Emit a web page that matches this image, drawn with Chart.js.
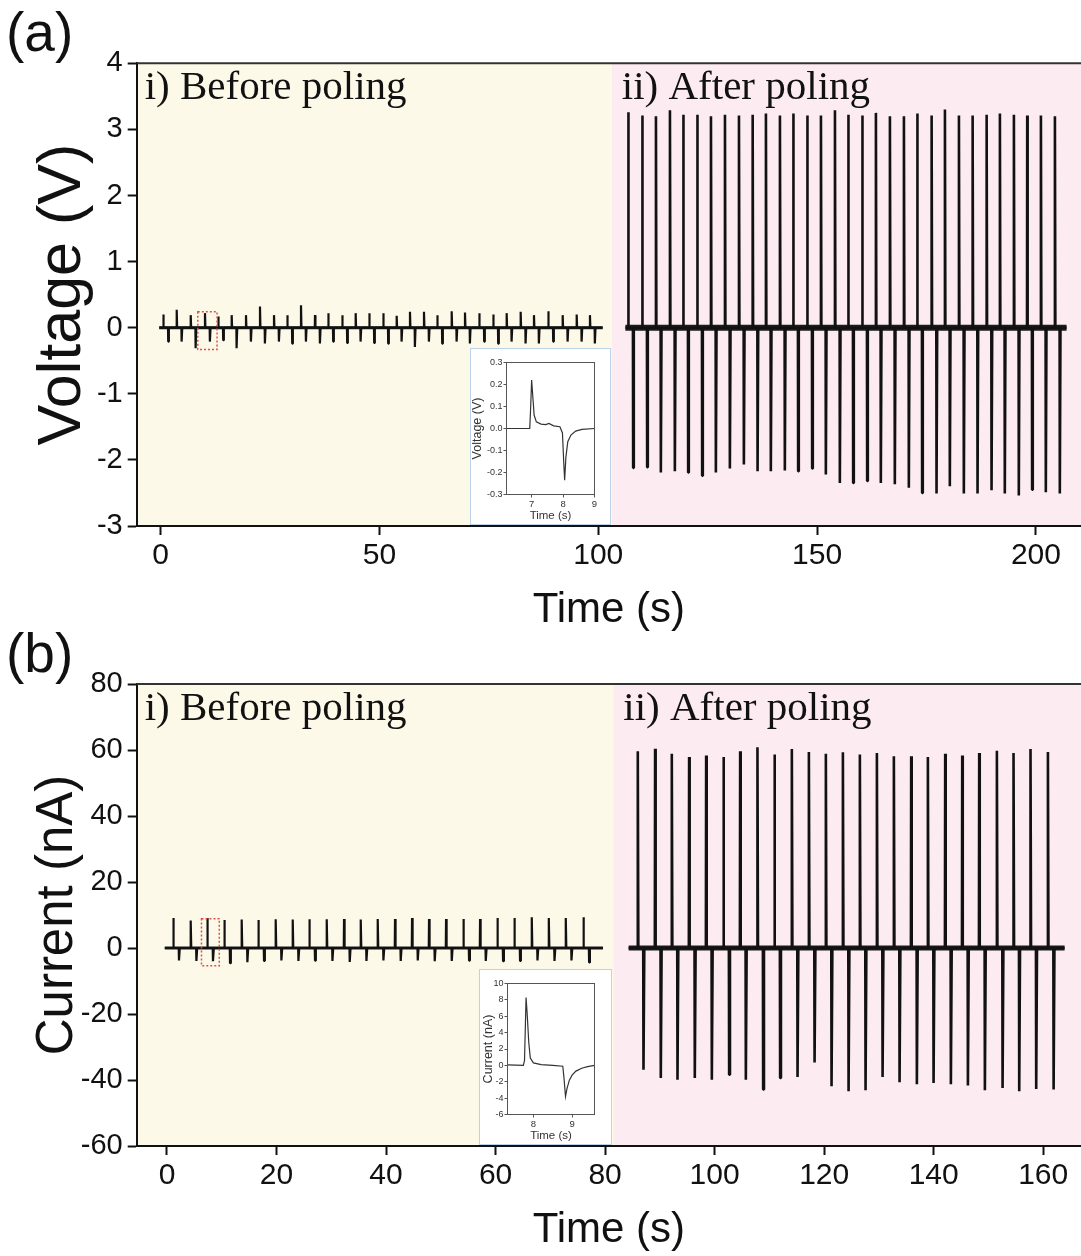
<!DOCTYPE html>
<html>
<head>
<meta charset="utf-8">
<script src="https://cdn.jsdelivr.net/npm/chart.js@4.4.1/dist/chart.umd.min.js"></script>
<style>
  html, body { margin: 0; padding: 0; background: #fff; overflow: hidden; }
  #page { position: relative; width: 1081px; height: 1256px; }
  .main { position: absolute; left: 0; }
  .inset { position: absolute; background: #fff; border: 1.5px solid #bcd2ea; box-sizing: border-box; }
  .inset canvas { position: absolute; left: 0; top: 0; }
</style>
</head>
<body>
<div id="page">
  <div class="main" style="top:0"><canvas id="chartA" width="1081" height="640"></canvas></div>
  <div class="main" style="top:620px"><canvas id="chartB" width="1081" height="636"></canvas></div>
  <div class="inset" style="left:470px;top:348px;width:141px;height:177px"><canvas id="insetA" width="138" height="174"></canvas></div>
  <div class="inset" style="left:479px;top:969px;width:133px;height:176px"><canvas id="insetB" width="130" height="173"></canvas></div>
</div>
<script>
// (a) voltage: spike onset times (s), press peaks and release troughs (V)
const voltBeforeT = [0.62, 3.68, 6.88, 10.14, 13.18, 16.24, 19.51, 22.71, 25.91, 28.95, 32.08, 35.28, 38.31, 41.51, 44.57, 47.68,
  50.88, 53.94, 56.98, 60.18, 63.22, 66.51, 69.55, 72.81, 76.01, 79.07, 82.27, 85.31, 88.58, 91.87, 95.07, 98.10];
const voltBeforeUp = [0.20, 0.27, 0.19, 0.22, 0.17, 0.19, 0.19, 0.32, 0.19, 0.19, 0.34, 0.19, 0.22, 0.19, 0.22, 0.22,
  0.22, 0.18, 0.24, 0.24, 0.19, 0.25, 0.23, 0.22, 0.20, 0.22, 0.24, 0.19, 0.25, 0.19, 0.20, 0.19];
const voltBeforeDown = [-0.21, -0.21, -0.31, -0.21, -0.19, -0.31, -0.21, -0.24, -0.21, -0.24, -0.21, -0.24, -0.21, -0.23, -0.21, -0.23,
  -0.24, -0.21, -0.29, -0.21, -0.24, -0.21, -0.24, -0.21, -0.24, -0.21, -0.24, -0.24, -0.21, -0.21, -0.21, -0.24];
const voltAfterT = [106.85, 110.05, 113.18, 116.38, 119.42, 122.62, 125.75, 128.95, 132.15, 135.28, 138.31, 141.51, 144.55, 147.75, 150.88, 154.08,
  157.12, 160.32, 163.44, 166.64, 169.84, 172.88, 176.17, 179.21, 182.41, 185.54, 188.74, 191.77, 194.97, 198.01, 201.14, 204.34];
const voltAfterUp = [3.26, 3.21, 3.20, 3.29, 3.22, 3.22, 3.20, 3.22, 3.21, 3.22, 3.24, 3.21, 3.24, 3.21, 3.21, 3.29,
  3.22, 3.21, 3.25, 3.20, 3.20, 3.24, 3.21, 3.30, 3.21, 3.21, 3.22, 3.24, 3.22, 3.21, 3.21, 3.20];
const voltAfterDown = [-2.12, -2.11, -2.19, -2.17, -2.19, -2.24, -2.19, -2.13, -2.07, -2.17, -2.17, -2.16, -2.17, -2.13, -2.22, -2.35,
  -2.35, -2.32, -2.35, -2.37, -2.42, -2.50, -2.51, -2.40, -2.51, -2.51, -2.46, -2.51, -2.54, -2.45, -2.49, -2.51];
const voltSpans = [[-0.3, 101], [106.2, 207]];
const voltLag = 1.12;
const voltSplit = 103.1;
const voltBox = [8.5, 12.9, -0.33, 0.24];
const voltTicksX = [0, 50, 100, 150, 200];
const voltTicksY = [-3, -2, -1, 0, 1, 2, 3, 4];

// (b) current: spike onset times (s), peaks and troughs (nA)
const currBeforeT = [1.15, 4.33, 7.36, 10.47, 13.64, 16.68, 19.85, 22.96, 25.99, 29.17, 32.33, 35.38, 38.48,
  41.64, 44.75, 47.85, 50.96, 54.12, 57.17, 60.33, 63.43, 66.61, 69.72, 72.82, 76.04];
const currBeforeUp = [9.1, 8.3, 9.1, 8.5, 8.6, 8.5, 8.7, 8.6, 8.7, 8.7, 8.8, 8.6, 8.8,
  8.8, 9.1, 8.8, 8.8, 8.8, 8.8, 9.1, 9.1, 9.3, 9.1, 9.1, 9.3];
const currBeforeDown = [-3.8, -3.9, -4.0, -4.6, -4.3, -3.9, -3.8, -3.9, -3.8, -3.9, -4.2, -3.9, -3.8,
  -3.9, -3.8, -4.0, -3.9, -3.8, -3.9, -4.0, -3.9, -3.8, -3.9, -3.8, -4.4];
const currAfterT = [85.97, 89.13, 92.18, 95.34, 98.45, 101.61, 104.66, 107.82, 110.92, 114.10, 117.21, 120.31, 123.42,
  126.52, 129.63, 132.73, 135.89, 138.94, 142.10, 145.21, 148.31, 151.54, 154.58, 157.68, 160.86];
const currAfterUp = [59.6, 60.4, 58.9, 57.9, 58.3, 57.9, 59.6, 60.8, 58.6, 60.3, 59.4, 58.9, 59.3,
  58.6, 59.1, 58.1, 58.1, 57.9, 58.9, 58.3, 59.1, 59.8, 59.1, 60.3, 59.4];
const currAfterDown = [-36.9, -39.4, -39.9, -39.4, -39.9, -38.4, -39.9, -42.9, -39.4, -39.1, -34.7, -41.9, -43.4,
  -43.1, -39.1, -40.7, -41.3, -40.9, -41.3, -41.7, -43.1, -42.4, -43.4, -42.7, -42.9];
const currSpans = [[-0.4, 79.6], [84.3, 163.9]];
const currLag = 1.04;
const currSplit = 81.5;
const currBox = [6.3, 9.55, -5.4, 8.9];
const currTicksX = [0, 20, 40, 60, 80, 100, 120, 140, 160];
const currTicksY = [-60, -40, -20, 0, 20, 40, 60, 80];

// insets: a single press/release cycle
const insetVoltT = [6.2, 6.94, 6.97, 7.0, 7.04, 7.08, 7.15, 7.3, 7.45, 7.55, 7.7, 7.9, 7.98, 8.02, 8.05, 8.09, 8.15, 8.25, 8.4, 8.6, 9.0];
const insetVoltV = [0, 0, 0.1, 0.22, 0.14, 0.06, 0.03, 0.02, 0.018, 0.023, 0.012, 0.008, -0.02, -0.15, -0.235, -0.13, -0.06, -0.03, -0.012, -0.004, 0];
const insetCurrT = [7.33, 7.74, 7.77, 7.81, 7.84, 7.88, 7.92, 8.0, 8.2, 8.5, 8.76, 8.79, 8.83, 8.87, 8.93, 9.0, 9.1, 9.25, 9.4, 9.58];
const insetCurrI = [0.05, 0, 0.6, 8.3, 6.2, 2.8, 0.9, 0.3, 0.1, 0, -0.1, -1.5, -3.8, -2.8, -1.8, -1.2, -0.7, -0.35, -0.15, 0];

Chart.defaults.font.family = '"Liberation Sans", Arial, sans-serif';
Chart.defaults.color = '#111';

// baseline with an up pulse at each onset and a down pulse one lag later
function trace(span, times, ups, downs, lag) {
  const pts = [{x: span[0], y: 0}];
  times.forEach((t, i) => {
    pts.push({x: t - 0.05, y: 0}, {x: t, y: ups[i]}, {x: t + 0.1, y: 0});
    pts.push({x: t + lag - 0.05, y: 0}, {x: t + lag, y: downs[i]}, {x: t + lag + 0.15, y: 0});
  });
  pts.push({x: span[1], y: 0});
  return pts;
}

function band(span, w) {
  return {data: [{x: span[0], y: 0}, {x: span[1], y: 0}], borderColor: '#1c1c1c', borderWidth: w, pointRadius: 0};
}

const decor = {
  id: 'decor',
  beforeDraw(chart, args, o) {
    const {ctx, chartArea: a} = chart;
    const mid = chart.scales.x.getPixelForValue(o.split);
    ctx.save();
    ctx.fillStyle = '#fdf9e9';
    ctx.fillRect(a.left, a.top, mid - a.left, a.bottom - a.top);
    ctx.fillStyle = '#fcebf1';
    ctx.fillRect(mid, a.top, a.right - mid, a.bottom - a.top);
    ctx.restore();
  },
  afterDraw(chart, args, o) {
    const {ctx, chartArea: a, scales: {x, y}} = chart;
    const mid = x.getPixelForValue(o.split);
    ctx.save();
    // top frame
    ctx.strokeStyle = '#333';
    ctx.lineWidth = 2;
    ctx.beginPath();
    ctx.moveTo(a.left, a.top);
    ctx.lineTo(a.right, a.top);
    ctx.stroke();
    // dotted box round the cycle shown in the inset
    const bx0 = x.getPixelForValue(o.box[0]), bx1 = x.getPixelForValue(o.box[1]);
    const by0 = y.getPixelForValue(o.box[3]), by1 = y.getPixelForValue(o.box[2]);
    ctx.strokeStyle = '#d9534f';
    ctx.lineWidth = 1.5;
    ctx.setLineDash([2, 2]);
    ctx.strokeRect(bx0, by0, bx1 - bx0, by1 - by0);
    ctx.setLineDash([]);
    // segment captions
    ctx.fillStyle = '#111';
    ctx.font = '41px "Liberation Serif", "Times New Roman", serif';
    ctx.textBaseline = 'alphabetic';
    ctx.fillText('i) Before poling', a.left + 8, a.top + 36);
    ctx.fillText('ii) After poling', mid + 10, a.top + 36);
    // panel letter
    ctx.font = '55px "Liberation Sans", Arial, sans-serif';
    ctx.fillText(o.letter, 6, o.letterY);
    ctx.restore();
  }
};

function mainChart(id, p) {
  return new Chart(document.getElementById(id), {
    type: 'line',
    data: {
      datasets: [
        {data: trace(p.spans[0], p.beforeT, p.beforeUp, p.beforeDown, p.lag), borderColor: '#111', borderWidth: 2.2, pointRadius: 0},
        {data: trace(p.spans[1], p.afterT, p.afterUp, p.afterDown, p.lag), borderColor: '#111', borderWidth: 2.6, pointRadius: 0},
        band(p.spans[0], 3),
        band(p.spans[1], p.noise)
      ]
    },
    options: {
      responsive: false,
      animation: false,
      events: [],
      parsing: false,
      elements: {line: {tension: 0, borderJoinStyle: 'bevel'}},
      layout: {padding: {top: p.top, left: 0, right: 0, bottom: 0}},
      plugins: {
        legend: {display: false},
        tooltip: {enabled: false},
        decor: {split: p.split, box: p.box, letter: p.letter, letterY: p.letterY}
      },
      scales: {
        x: {
          type: 'linear', min: p.xMin, max: p.xMax,
          afterBuildTicks: s => { s.ticks = p.ticksX.map(v => ({value: v})); },
          afterFit: s => { s.height = p.xH; },
          grid: {drawOnChartArea: false, tickLength: 9, tickWidth: 2, tickColor: '#111'},
          border: {color: '#111', width: 2},
          ticks: {font: {size: 30}, color: '#111', padding: 3, maxRotation: 0, autoSkip: false},
          title: {display: true, text: 'Time (s)', font: {size: 42}, color: '#111', padding: {top: 0, bottom: p.xTitlePad}}
        },
        y: {
          type: 'linear', min: p.yMin, max: p.yMax,
          afterBuildTicks: s => { s.ticks = p.ticksY.map(v => ({value: v})); },
          afterFit: s => { s.width = 136.7; },
          grid: {drawOnChartArea: false, tickLength: 9, tickWidth: 2, tickColor: '#111'},
          border: {color: '#111', width: 2},
          ticks: {font: {size: 29}, color: '#111', padding: 5, autoSkip: false},
          title: {display: true, text: p.yTitle, font: {size: p.yTitleSize}, color: '#111', padding: {top: p.yTitlePad, bottom: 0}}
        }
      }
    },
    plugins: [decor]
  });
}

mainChart('chartA', {
  spans: voltSpans, lag: voltLag, split: voltSplit, box: voltBox, noise: 6,
  beforeT: voltBeforeT, beforeUp: voltBeforeUp, beforeDown: voltBeforeDown,
  afterT: voltAfterT, afterUp: voltAfterUp, afterDown: voltAfterDown,
  ticksX: voltTicksX, ticksY: voltTicksY,
  xMin: -5.46, xMax: 210.3, yMin: -3, yMax: 4,
  top: 63.3, xH: 114, xTitlePad: 4,
  yTitle: 'Voltage (V)', yTitleSize: 61, yTitlePad: 27,
  letter: '(a)', letterY: 51
});

mainChart('chartB', {
  spans: currSpans, lag: currLag, split: currSplit, box: currBox, noise: 5,
  beforeT: currBeforeT, beforeUp: currBeforeUp, beforeDown: currBeforeDown,
  afterT: currAfterT, afterUp: currAfterUp, afterDown: currAfterDown,
  ticksX: currTicksX, ticksY: currTicksY,
  xMin: -5.53, xMax: 166.9, yMin: -60, yMax: 80,
  top: 64, xH: 110, xTitlePad: 0,
  yTitle: 'Current (nA)', yTitleSize: 51, yTitlePad: 27,
  letter: '(b)', letterY: 52
});

// thin grey frame round the inset plot area
const insetFrame = {
  id: 'insetFrame',
  afterDraw(chart) {
    const {ctx, chartArea: a} = chart;
    ctx.save();
    ctx.strokeStyle = '#555';
    ctx.lineWidth = 1;
    ctx.strokeRect(a.left, a.top, a.right - a.left, a.bottom - a.top);
    ctx.restore();
  }
};

function insetChart(id, p) {
  return new Chart(document.getElementById(id), {
    type: 'line',
    data: {datasets: [{data: p.t.map((t, i) => ({x: t, y: p.v[i]})), borderColor: '#333', borderWidth: 1.2, pointRadius: 0}]},
    options: {
      responsive: false,
      animation: false,
      events: [],
      parsing: false,
      elements: {line: {tension: 0}},
      layout: {padding: {top: 13.5, right: p.right, left: 0, bottom: 0}},
      plugins: {legend: {display: false}, tooltip: {enabled: false}},
      scales: {
        x: {
          type: 'linear', min: p.xMin, max: p.xMax,
          afterBuildTicks: s => { s.ticks = p.ticksX.map(v => ({value: v})); },
          afterFit: s => { s.height = 28.5; },
          grid: {drawOnChartArea: false, tickLength: 3, tickColor: '#555'},
          border: {color: '#555', width: 1},
          ticks: {font: {size: 9.5}, color: '#333', padding: 1, maxRotation: 0, autoSkip: false},
          title: {display: true, text: 'Time (s)', font: {size: 11.5}, color: '#333', padding: 0}
        },
        y: {
          type: 'linear', min: p.yMin, max: p.yMax,
          afterBuildTicks: s => { s.ticks = p.ticksY.map(v => ({value: v})); },
          afterFit: s => { s.width = p.left; },
          grid: {drawOnChartArea: false, tickLength: 3, tickColor: '#555'},
          border: {color: '#555', width: 1},
          ticks: {font: {size: 9}, color: '#333', padding: 1, autoSkip: false, callback: p.fmt},
          title: {display: true, text: p.yTitle, font: {size: 12.5}, color: '#333', padding: {top: p.yTitlePad, bottom: 0}}
        }
      }
    },
    plugins: [insetFrame]
  });
}

insetChart('insetA', {
  t: insetVoltT, v: insetVoltV, xMin: 6.2, xMax: 9.0, yMin: -0.3, yMax: 0.3,
  ticksX: [7, 8, 9], ticksY: [-0.3, -0.2, -0.1, 0, 0.1, 0.2, 0.3],
  left: 35.5, right: 14.5, yTitle: 'Voltage (V)', yTitlePad: -1,
  fmt: v => v.toFixed(1)
});

insetChart('insetB', {
  t: insetCurrT, v: insetCurrI, xMin: 7.33, xMax: 9.58, yMin: -6, yMax: 10,
  ticksX: [8, 9], ticksY: [-6, -4, -2, 0, 2, 4, 6, 8, 10],
  left: 27.5, right: 15.5, yTitle: 'Current (nA)', yTitlePad: 1,
  fmt: v => String(v)
});
</script>
</body>
</html>
